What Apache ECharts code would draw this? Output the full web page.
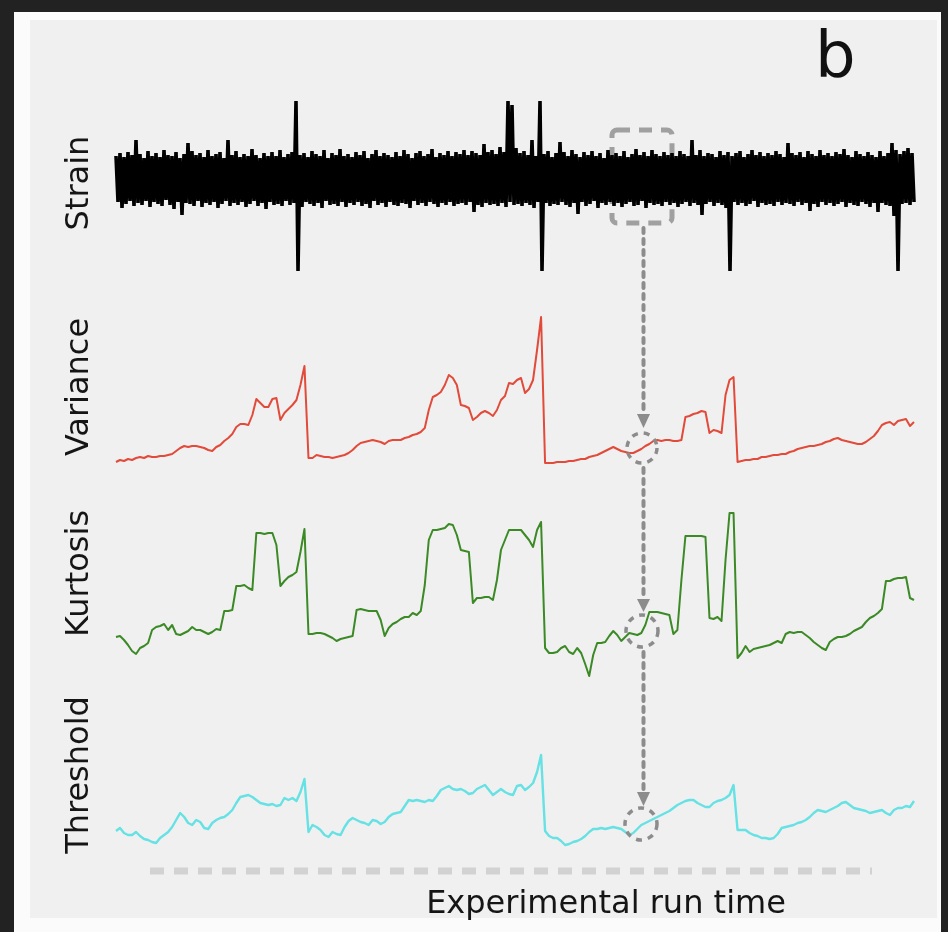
<!DOCTYPE html>
<html>
<head>
<meta charset="utf-8">
<title>Strain, variance, kurtosis, threshold</title>
<script src="https://cdn.jsdelivr.net/npm/echarts@6.0.0/dist/echarts.min.js"></script>
<style>
  html, body { margin: 0; padding: 0; width: 948px; height: 932px; background: #222; overflow: hidden; }
  #frame { position: absolute; left: 14px; top: 12px; width: 927px; height: 920px; background: #fbfbfb; }
  #panel { position: absolute; left: 30px; top: 20px; width: 907px; height: 898px; background: #f0f0f0; }
  #chart { position: absolute; left: 0; top: 0; width: 948px; height: 932px; }
</style>
</head>
<body>
<div id="frame"></div>
<div id="panel"></div>
<div id="chart"></div>
<script>
// raw strain signal, 400 samples (alternating excursions + a few spikes)
const strain = [
  3.0,-1.6,3.3,-2.2,2.9,-1.8,3.4,-1.5,3.1,-2.0,4.6,-1.7,3.2,-1.9,2.8,-1.5,3.5,-2.1,3.0,-1.6,
  3.3,-1.8,2.9,-2.0,3.6,-1.4,3.1,-1.9,3.0,-2.3,3.4,-1.6,2.8,-2.9,3.2,-1.7,4.3,-1.8,3.5,-2.0,
  3.1,-1.5,3.3,-2.1,2.9,-1.7,3.6,-1.9,3.0,-1.6,3.2,-2.2,3.4,-1.8,2.8,-1.5,4.6,-2.0,3.1,-1.7,
  3.5,-1.9,2.9,-1.6,3.2,-2.1,3.0,-1.8,3.7,-1.5,3.1,-2.0,2.8,-1.7,3.3,-2.3,3.0,-1.6,3.4,-1.9,
  3.0,-1.8,3.6,-2.0,2.9,-1.5,3.2,-1.9,3.4,-1.7,8.5,-8.5,3.1,-2.1,3.3,-1.6,2.9,-1.8,3.5,-2.0,
  3.2,-1.7,3.0,-2.2,3.6,-1.5,2.8,-1.9,3.3,-1.8,3.1,-2.0,3.7,-1.6,3.0,-2.1,3.2,-1.7,2.9,-1.9,
  3.4,-1.6,3.1,-2.0,3.5,-1.8,2.8,-2.2,3.2,-1.5,3.6,-1.9,3.0,-1.7,3.3,-2.1,3.1,-1.6,2.9,-1.9,
  3.4,-2.0,3.0,-1.7,3.6,-1.8,3.2,-2.2,2.8,-1.5,3.3,-1.9,3.5,-1.7,3.0,-2.0,3.2,-1.6,3.7,-1.8,
  2.9,-2.1,3.3,-1.7,3.1,-1.9,3.5,-1.6,3.0,-2.0,3.4,-1.8,3.2,-1.7,3.6,-1.9,3.1,-1.6,3.5,-2.6,
  3.3,-1.9,3.1,-2.1,4.2,-1.7,3.4,-1.9,3.6,-1.8,3.2,-2.0,3.9,-1.7,3.4,-2.1,8.5,-1.6,8.1,-1.9,
  3.8,-1.8,3.3,-2.0,3.5,-1.7,3.1,-1.9,4.6,-2.2,3.0,-1.6,8.5,-8.5,3.2,-1.7,3.5,-2.0,2.9,-1.8,
  3.3,-1.9,4.4,-1.6,3.4,-1.9,3.0,-2.1,3.6,-1.7,3.2,-2.8,2.9,-1.6,3.4,-2.0,3.1,-1.8,3.5,-1.5,
  3.0,-2.2,3.3,-1.7,2.8,-1.9,3.6,-1.6,3.1,-2.0,3.3,-1.7,3.0,-2.1,3.5,-1.8,2.9,-1.6,3.2,-2.0,
  3.7,-1.9,3.1,-1.5,3.4,-2.2,3.0,-1.7,3.6,-1.9,3.2,-1.8,3.0,-2.0,3.4,-1.6,3.1,-1.9,3.3,-1.7,
  3.0,-2.1,3.5,-1.8,3.2,-1.6,3.0,-2.0,4.6,-1.7,3.1,-1.9,3.6,-2.9,3.0,-1.8,3.3,-1.6,3.2,-2.0,
  2.9,-1.7,3.5,-1.9,3.1,-2.2,3.4,-8.5,3.0,-1.6,3.3,-1.9,3.5,-1.7,2.9,-2.0,3.2,-1.8,3.6,-1.5,
  3.1,-2.1,3.4,-1.7,3.0,-1.9,3.3,-1.8,3.1,-2.0,3.5,-1.6,3.2,-1.9,2.9,-1.7,4.3,-1.8,3.3,-2.0,
  3.1,-1.6,3.4,-1.9,2.9,-1.7,3.5,-2.5,3.2,-1.8,3.0,-2.1,3.6,-1.6,3.1,-1.9,3.3,-1.7,3.0,-2.0,
  3.4,-1.8,3.2,-1.6,3.7,-2.1,3.1,-1.7,2.9,-1.9,3.5,-2.0,3.2,-1.6,3.0,-1.8,3.4,-2.1,3.1,-1.7,
  2.9,-2.6,3.5,-1.7,3.0,-1.9,3.3,-2.0,4.3,-3.0,3.6,-8.5,3.2,-1.8,3.5,-1.7,3.8,-1.9,3.3,-1.6
];

// windowed statistics, 200 samples each
const variance = [
  0.8,1.0,0.9,1.1,1.0,1.2,1.3,1.2,1.4,1.3, 1.3,1.4,1.4,1.5,1.6,1.9,2.2,2.4,2.3,2.4,
  2.4,2.3,2.2,2.0,1.9,2.3,2.5,2.9,3.2,3.6, 4.3,4.6,4.6,4.5,5.5,7.1,6.7,6.3,6.3,7.1,
  7.2,5.0,5.7,6.1,6.5,7.0,8.5,10.4,1.2,1.2, 1.5,1.4,1.3,1.3,1.2,1.3,1.4,1.5,1.7,2.0,
  2.4,2.7,2.8,2.9,3.0,2.9,2.8,2.6,2.9,3.0, 3.0,3.0,3.2,3.3,3.5,3.6,3.8,4.2,6.0,7.3,
  7.5,7.8,8.5,9.5,9.2,8.5,6.5,6.4,6.2,5.0, 5.3,5.7,5.9,5.7,5.4,6.0,7.0,7.4,8.7,8.6,
  9.0,9.2,7.7,8.1,9.0,12.0,15.3,0.7,0.7,0.7, 0.8,0.8,0.8,0.9,0.9,1.0,1.1,1.1,1.3,1.4,
  1.5,1.7,1.9,2.1,2.3,2.1,1.9,1.8,1.7,1.7, 1.9,2.1,2.4,2.6,2.9,3.0,2.9,3.0,3.0,2.9,
  2.9,3.0,5.3,5.4,5.6,5.7,5.9,5.8,3.7,4.0, 3.9,3.7,7.5,9.0,9.3,0.8,0.9,1.0,1.0,1.1,
  1.1,1.3,1.3,1.4,1.5,1.5,1.6,1.6,1.8,1.9, 2.1,2.2,2.3,2.4,2.4,2.5,2.6,2.8,2.9,3.1,
  3.2,3.0,2.9,2.8,2.7,2.6,2.6,2.8,3.1,3.4, 3.9,4.5,4.7,4.8,4.5,4.9,5.0,5.1,4.4,4.8
];

const kurtosis = [
  5.3,5.4,5.0,4.5,3.9,3.6,4.2,4.4,4.7,6.0, 6.3,6.4,6.6,6.0,6.5,5.6,5.5,5.7,5.9,6.3,
  6.0,6.0,5.8,5.6,5.8,6.1,6.0,7.9,7.9,8.0, 10.4,10.4,10.5,10.2,10.0,15.7,15.7,15.6,15.7,15.7,
  14.5,10.4,10.9,11.3,11.5,11.8,13.8,16.1,5.6,5.6, 5.7,5.7,5.6,5.4,5.2,4.9,5.1,5.2,5.3,5.4,
  8.0,8.1,8.0,7.9,7.9,7.9,7.0,5.4,6.2,6.6, 6.8,7.1,7.3,7.3,7.7,7.5,7.9,10.5,15.0,16.0,
  16.0,16.1,16.2,16.6,16.5,15.5,14.0,13.9,13.8,8.7, 9.2,9.2,9.3,9.3,9.0,11.0,14.0,15.0,16.0,16.0,
  16.0,16.0,15.5,15.0,14.3,16.0,16.8,4.2,3.7,3.7, 3.8,4.2,4.4,3.8,3.6,4.2,3.7,2.6,1.4,3.5,
  4.7,4.7,4.8,5.4,5.9,5.5,4.9,5.3,5.7,5.6, 5.5,5.7,6.5,7.8,7.8,7.8,7.7,7.6,7.5,5.6,
  6.0,11.0,15.4,15.4,15.4,15.4,15.4,15.3,7.2,7.1, 7.3,6.9,13.0,17.7,17.7,3.2,3.7,4.4,3.8,4.1,
  4.2,4.3,4.4,4.5,4.7,4.9,4.7,5.6,5.8,5.7, 5.8,5.8,5.5,5.2,4.8,4.5,4.2,4.0,4.8,5.1,
  5.3,5.3,5.4,5.6,5.9,6.1,6.3,6.8,7.2,7.4, 7.7,8.1,10.9,10.9,11.1,11.2,11.2,11.3,9.2,9.0
];

const threshold = [
  1.9,2.2,1.7,1.5,1.5,1.8,1.4,1.1,1.0,0.8, 0.7,1.2,1.5,1.8,2.3,3.0,3.7,3.3,2.7,2.5,
  3.0,2.8,2.2,2.1,2.7,3.0,3.2,3.3,3.6,4.0, 4.7,5.3,5.4,5.5,5.3,5.0,4.7,4.6,4.5,4.6,
  4.4,4.5,5.2,5.0,5.2,4.9,5.8,7.1,1.8,2.5, 2.3,2.0,1.5,1.3,1.8,1.6,1.5,2.3,2.9,3.2,
  3.0,2.8,2.7,2.5,3.0,2.9,2.6,2.8,3.3,3.6, 3.7,3.8,4.4,5.0,4.9,5.0,4.9,4.8,5.0,4.9,
  5.4,6.0,6.2,6.4,6.1,6.0,6.1,5.9,5.6,5.7, 6.1,6.3,6.5,6.0,5.5,5.8,6.1,5.8,5.6,5.5,
  6.4,6.5,6.0,6.3,6.7,7.8,9.5,1.9,1.4,1.2, 1.2,0.9,0.5,0.6,0.8,0.9,1.1,1.4,1.8,2.1,
  2.1,2.2,2.1,2.2,2.3,2.2,2.1,1.8,1.5,1.7, 2.1,2.5,2.7,2.9,3.1,3.3,3.5,3.7,3.9,4.2,
  4.5,4.7,4.9,5.0,5.0,4.7,4.5,4.3,4.3,4.7, 4.9,5.0,5.2,5.5,6.5,2.0,2.0,2.0,1.7,1.5,
  1.4,1.2,1.2,1.1,1.2,1.6,2.2,2.3,2.4,2.5, 2.7,2.8,3.0,3.3,3.7,4.0,3.9,3.8,4.0,4.2,
  4.4,4.7,4.8,4.5,4.2,4.1,4.0,3.9,3.7,3.8, 3.9,4.0,3.7,3.5,4.0,4.2,4.2,4.4,4.3,4.9
];

const panelNames = ['Strain', 'Variance', 'Kurtosis', 'Threshold'];
const xLabel = 'Experimental run time';

const panels = [
  { values: strain, color: '#000000', width: 3.6, join: 'bevel', top: 95, height: 176, min: -8.5, max: 9.1 },
  { values: variance, color: '#e24a3a', width: 2, join: 'round', top: 304, height: 166, min: 0, max: 16.6 },
  { values: kurtosis, color: '#3b8a26', width: 2, join: 'round', top: 457, height: 233, min: 0, max: 23.3 },
  { values: threshold, color: '#66e1e4', width: 2.4, join: 'round', top: 700, height: 150, min: 0, max: 15 }
];

const chart = echarts.init(document.getElementById('chart'));

const annoGray = '#8c8c8c';
const dotted = { stroke: annoGray, lineWidth: 4, lineDash: [5, 6], lineCap: 'round' };
const ring = { fill: 'none', stroke: annoGray, lineWidth: 3.5, lineDash: [6, 6] };

chart.setOption({
  animation: false,
  backgroundColor: 'transparent',
  grid: panels.map(p => ({ left: 116, width: 798, top: p.top, height: p.height })),
  xAxis: panels.map((p, i) => ({
    type: 'value', gridIndex: i, min: 0, max: p.values.length - 1, show: false
  })),
  yAxis: panels.map((p, i) => ({
    type: 'value', gridIndex: i, min: p.min, max: p.max,
    axisLine: { show: false }, axisTick: { show: false },
    axisLabel: { show: false }, splitLine: { show: false },
    name: panelNames[i], nameLocation: 'middle', nameRotate: 90, nameGap: 20,
    nameTextStyle: { fontFamily: 'DejaVu Sans', fontSize: 32, color: '#151515' }
  })),
  series: panels.map((p, i) => ({
    type: 'line', xAxisIndex: i, yAxisIndex: i,
    data: p.values.map((v, j) => [j, v]),
    showSymbol: false, symbol: 'none', sampling: null,
    lineStyle: { color: p.color, width: p.width, join: p.join }
  })),
  graphic: [
    // dashed box around the event on the strain record
    { type: 'rect', z: 0, shape: { x: 612, y: 130, width: 60, height: 93, r: 5 },
      style: { fill: 'none', stroke: '#a0a0a0', lineWidth: 5, lineDash: [13, 9] } },
    // dotted arrows down through the panels
    { type: 'line', z: 10, shape: { x1: 643.5, y1: 228, x2: 643.5, y2: 412 }, style: dotted },
    { type: 'polygon', z: 10, shape: { points: [[637, 414], [650, 414], [643.5, 428]] }, style: { fill: annoGray } },
    { type: 'circle', z: 10, shape: { cx: 642, cy: 448, r: 15 }, style: ring },
    { type: 'line', z: 10, shape: { x1: 643.5, y1: 468, x2: 643.5, y2: 597 }, style: dotted },
    { type: 'polygon', z: 10, shape: { points: [[637, 599], [650, 599], [643.5, 612]] }, style: { fill: annoGray } },
    { type: 'circle', z: 10, shape: { cx: 642, cy: 631, r: 16 }, style: ring },
    { type: 'line', z: 10, shape: { x1: 643.5, y1: 652, x2: 643.5, y2: 790 }, style: dotted },
    { type: 'polygon', z: 10, shape: { points: [[637, 792], [650, 792], [643.5, 806]] }, style: { fill: annoGray } },
    { type: 'circle', z: 10, shape: { cx: 641, cy: 824, r: 16 }, style: ring },
    // time axis drawn as a light dashed bar
    { type: 'line', z: 1, shape: { x1: 150, y1: 871, x2: 872, y2: 871 },
      style: { stroke: '#d2d2d2', lineWidth: 7, lineDash: [14, 10] } },
    { type: 'text', z: 5, x: 606, y: 905,
      style: { text: xLabel, align: 'center', verticalAlign: 'middle',
               font: '32px "DejaVu Sans"', fill: '#151515' } },
    { type: 'text', z: 5, x: 815, y: 60,
      style: { text: 'b', align: 'left', verticalAlign: 'middle',
               font: '64px "DejaVu Sans"', fill: '#111111' } }
  ]
});
</script>
</body>
</html>
